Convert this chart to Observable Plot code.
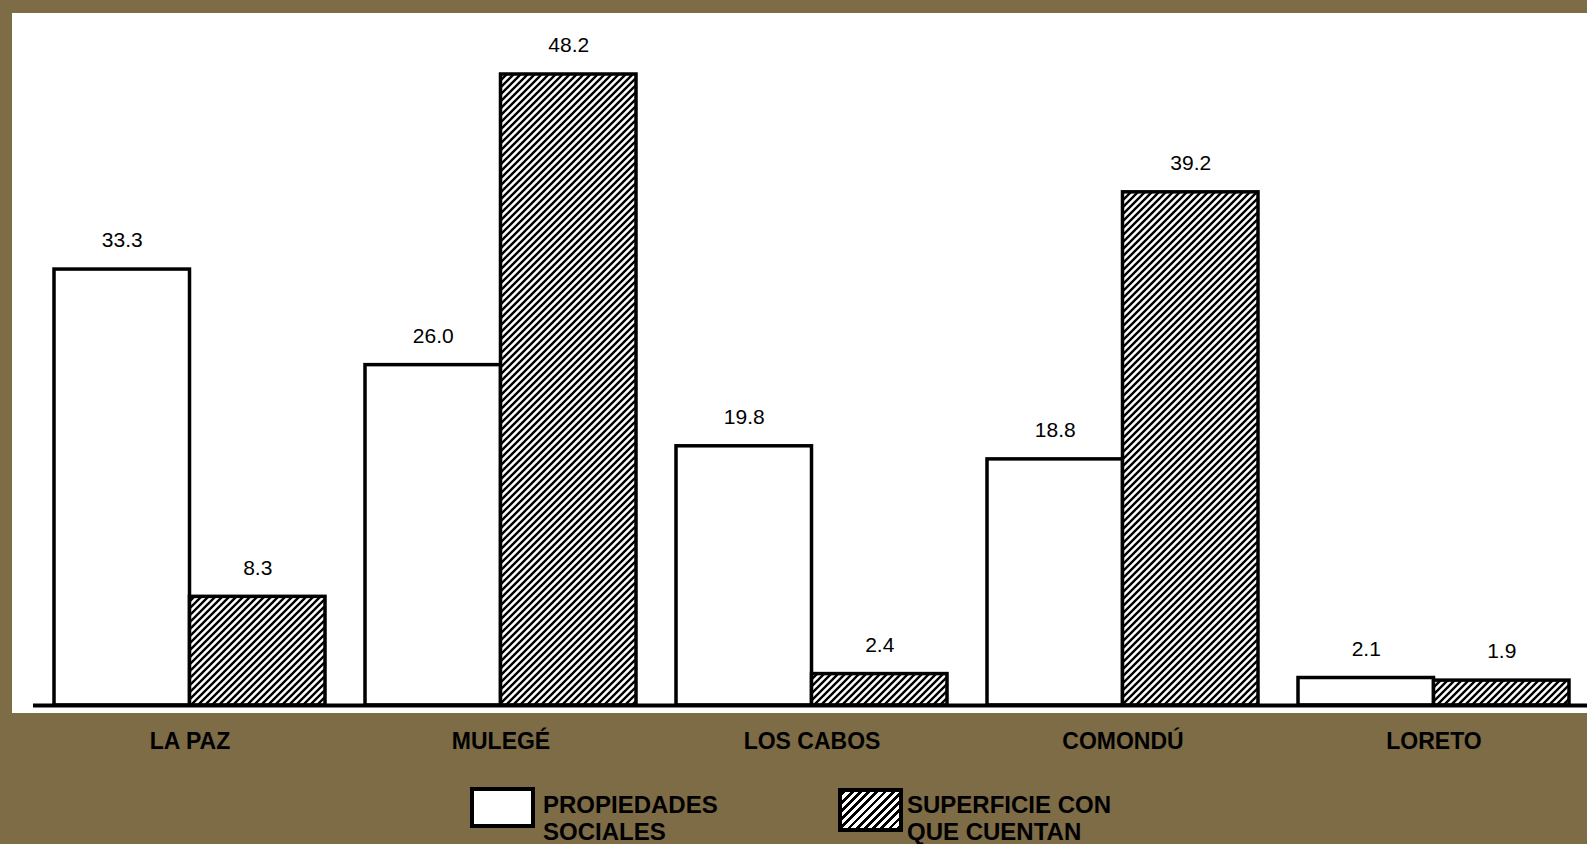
<!DOCTYPE html>
<html>
<head>
<meta charset="utf-8">
<script src="https://cdn.jsdelivr.net/npm/d3@7"></script>
<script src="https://cdn.jsdelivr.net/npm/@observablehq/plot@0.6"></script>
<style>
  html, body { margin: 0; padding: 0; background: #7d6c46; }
  #wrap { position: relative; width: 1587px; height: 844px; overflow: hidden; background: #7d6c46; font-family: "Liberation Sans", Arial, Helvetica, sans-serif; }
  #panel { position: absolute; left: 12px; top: 13px; width: 1575px; height: 700px; background: #ffffff; }
  #chart { position: absolute; left: 0; top: 0; }
  .lbox { position: absolute; box-sizing: border-box; border: 4px solid #000; }
  .ltext { position: absolute; font-size: 24px; font-weight: bold; line-height: 27px; color: #000; white-space: nowrap; }
</style>
</head>
<body>
<div id="wrap">
  <div id="panel"></div>
  <div id="chart"></div>
  <div class="lbox" style="left:470px;top:787px;width:65px;height:41px;background:#fff;"></div>
  <div class="ltext" id="leg1" style="left:543px;top:791px;"></div>
  <div class="lbox" style="left:838px;top:788px;width:65px;height:44px;background:repeating-linear-gradient(135deg,#000 0 2.8px,#fff 2.8px 5.8px);"></div>
  <div class="ltext" id="leg2" style="left:907px;top:791px;"></div>
</div>
<script>
// ---- data ----
const municipios = ["LA PAZ", "MULEGÉ", "LOS CABOS", "COMONDÚ", "LORETO"];
const propiedades = [33.3, 26.0, 19.8, 18.8, 2.1];
const superficie = [8.3, 48.2, 2.4, 39.2, 1.9];
const seriesNames = [["PROPIEDADES", "SOCIALES"], ["SUPERFICIE CON", "QUE CUENTAN"]];

const rowsA = municipios.map((m, i) => ({m, v: propiedades[i]}));
const rowsB = municipios.map((m, i) => ({m, v: superficie[i]}));
const half = 135.5;

const plot = Plot.plot({
  width: 1587,
  height: 760,
  marginTop: 13,
  marginBottom: 55,
  marginLeft: 33,
  marginRight: 0,
  style: {background: "transparent", color: "#000", fontFamily: "'Liberation Sans', Arial, Helvetica, sans-serif", overflow: "visible"},
  x: {domain: municipios, paddingInner: 0.129, paddingOuter: 0.062, align: 0.534, axis: null},
  y: {domain: [0, 52.86], axis: null},
  marks: [
    Plot.barY(rowsA, {x: "m", y: "v", fill: "white", stroke: "black", strokeWidth: 3.5, insetRight: half}),
    Plot.barY(rowsB, {x: "m", y: "v", fill: "url(#hatch)", stroke: "black", strokeWidth: 3.5, insetLeft: half}),
    Plot.text(rowsA, {x: "m", y: "v", text: d => d.v.toFixed(1), dx: -half / 2, dy: -29, fontSize: 21, fill: "black"}),
    Plot.text(rowsB, {x: "m", y: "v", text: d => d.v.toFixed(1), dx: half / 2, dy: -29, fontSize: 21, fill: "black"}),
    Plot.ruleY([0], {stroke: "black", strokeWidth: 4}),
    Plot.axisX({anchor: "bottom", tickSize: 0, tickPadding: 27, fontSize: 23, fontWeight: "bold", label: null, fill: "black"})
  ]
});

// hatch pattern definition
const ns = "http://www.w3.org/2000/svg";
const defs = document.createElementNS(ns, "defs");
defs.innerHTML = `<pattern id="hatch" patternUnits="userSpaceOnUse" width="7" height="7">
  <rect width="7" height="7" fill="white"/>
  <path d="M-1,1 l2,-2 M0,7 l7,-7 M6,8 l2,-2" stroke="black" stroke-width="2.4"/>
</pattern>`;
plot.insertBefore(defs, plot.firstChild);
document.getElementById("chart").appendChild(plot);

document.getElementById("leg1").innerHTML = seriesNames[0].join("<br>");
document.getElementById("leg2").innerHTML = seriesNames[1].join("<br>");
</script>
</body>
</html>
